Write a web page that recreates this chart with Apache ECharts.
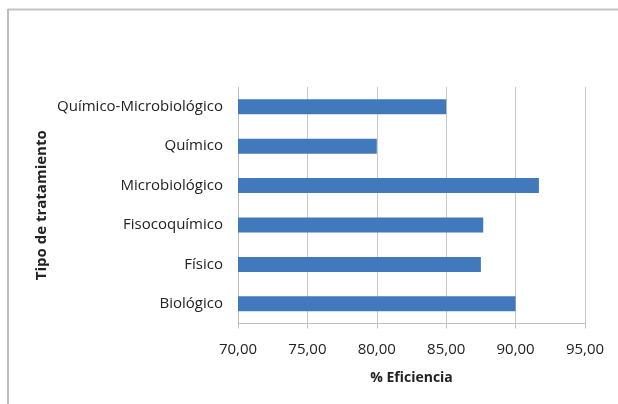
<!DOCTYPE html>
<html>
<head>
<meta charset="utf-8">
<script src="https://cdn.jsdelivr.net/npm/echarts@6/dist/echarts.min.js"></script>
<style>
html,body{margin:0;padding:0;background:#fff;}
#chart{width:618px;height:404px;}
</style>
</head>
<body>
<div id="chart"></div>
<script>
var categories = ['Biológico', 'Físico', 'Fisocoquímico', 'Microbiológico', 'Químico', 'Químico-Microbiológico'];
var efficiency = [90.0, 87.5, 87.67, 91.68, 80.0, 85.0];
var xAxisName = '% Eficiencia';
var yAxisName = 'Tipo de tratamiento';

var chart = echarts.init(document.getElementById('chart'), null, {renderer: 'canvas'});
var font = 'Open Sans, Liberation Sans, sans-serif';
chart.setOption({
  animation: false,
  backgroundColor: '#ffffff',
  graphic: [
    {type: 'line', shape: {x1: 8, y1: 9.5, x2: 618, y2: 9.5}, style: {stroke: '#c4c4c4', lineWidth: 2}},
    {type: 'line', shape: {x1: 8, y1: 9, x2: 8, y2: 404}, style: {stroke: '#bdbdbd', lineWidth: 2}}
  ],
  grid: {left: 238, right: 33, top: 87, bottom: 80.5, containLabel: false},
  xAxis: {
    type: 'value',
    min: 70, max: 95, interval: 5,
    name: xAxisName,
    nameLocation: 'middle',
    nameGap: 48,
    nameMoveOverlap: false,
    nameTextStyle: {fontFamily: font, fontSize: 14, fontWeight: 'bold', color: '#222'},
    axisLine: {show: true, lineStyle: {color: '#bfbfbf', width: 1}},
    axisTick: {show: true, length: 5, lineStyle: {color: '#bfbfbf'}},
    axisLabel: {
      fontFamily: font, fontSize: 15, color: '#222', margin: 19,
      formatter: function (v) { return v.toFixed(2).replace('.', ','); }
    },
    splitLine: {show: true, lineStyle: {color: '#c8c8c8', width: 1}}
  },
  yAxis: {
    type: 'category',
    data: categories,
    name: yAxisName,
    nameLocation: 'middle',
    nameGap: 189,
    nameMoveOverlap: false,
    nameRotate: 90,
    nameTextStyle: {fontFamily: font, fontSize: 15, fontWeight: 'bold', color: '#222'},
    axisLine: {show: true, lineStyle: {color: '#bfbfbf', width: 1}},
    axisTick: {show: false},
    axisLabel: {fontFamily: font, fontSize: 15, color: '#222', margin: 15}
  },
  series: [{
    type: 'bar',
    data: efficiency,
    barWidth: 15,
    itemStyle: {color: '#4279bd'}
  }]
});
</script>
</body>
</html>
